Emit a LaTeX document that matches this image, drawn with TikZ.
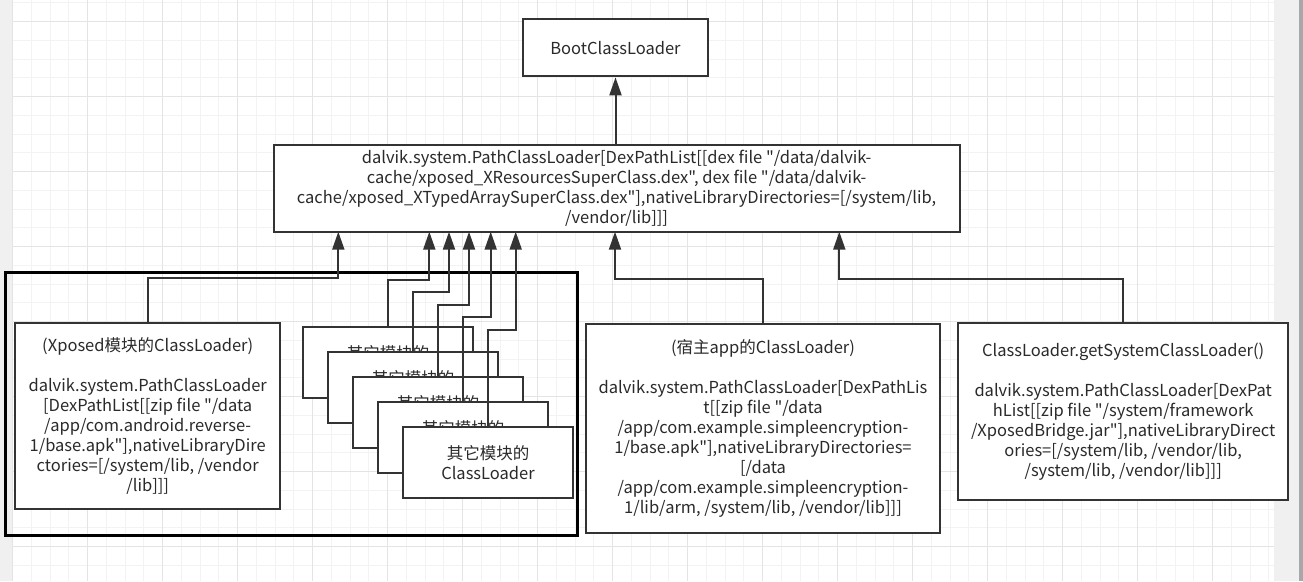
\documentclass[tikz,border=0pt]{standalone}
\usepackage{fontspec}
\setmainfont{Noto Sans CJK SC}[Ligatures=TeXOff]
\usetikzlibrary{arrows.meta}
\definecolor{lc}{HTML}{333333}
\definecolor{tc}{HTML}{2A2A2A}
\definecolor{gminor}{HTML}{F3F3F3}
\definecolor{gmajor}{HTML}{E4E4E4}
\definecolor{side}{HTML}{F0F0F0}
\definecolor{edge}{HTML}{A8A8A8}
\tikzset{
  box/.style={draw=lc, line width=2pt, fill=white, inner sep=0pt, align=center,
    text=tc, font=\fontsize{16.5}{20}\selectfont},
  arr/.style={draw=lc, line width=2pt, line join=miter, -{Triangle[length=18pt,width=12pt]}},
  minorline/.style={draw=gminor, line width=1pt},
  majorline/.style={draw=gmajor, line width=1pt},
  frame/.style={draw=black, line width=3pt},
}
\begin{document}
\begin{tikzpicture}[x=1pt,y=-1pt]
\useasboundingbox (0,0) rectangle (1303,581);
% background
\fill[side] (0,0) rectangle (1303,581);
\fill[white] (13,0) rectangle (1274,581);
\fill[edge] (1299,0) rectangle (1303,581);
\foreach \i in {0,...,67} { \draw[minorline] (12.7+18.75*\i,0) -- (12.7+18.75*\i,581); }
\foreach \k in {0,...,30} { \draw[minorline] (13,2.95+18.75*\k) -- (1274,2.95+18.75*\k); }
\foreach \i in {0,...,16} { \draw[majorline] (12.7+75*\i,0) -- (12.7+75*\i,581); }
\foreach \k in {0,...,7} { \draw[majorline] (13,21.7+75*\k) -- (1274,21.7+75*\k); }

% nodes
\node[box, minimum width=184.4pt, minimum height=57.3pt] (boot) at (615.5,47.7) {BootClassLoader};
\node[box, minimum width=686pt, minimum height=86.7pt] (main) at (616.6,188.3)
  {dalvik.system.PathClassLoader[DexPathList[[dex file "/data/dalvik-\\
   cache/xposed\_XResourcesSuperClass.dex", dex file "/data/dalvik-\\
   cache/xposed\_XTypedArraySuperClass.dex"],nativeLibraryDirectories=[/system/lib,\\
   /vendor/lib]]]};

\draw[frame] (5.5,272) rectangle (577.5,535);

\node[box, minimum width=265.3pt, minimum height=185.4pt] (xp) at (147.7,416)
  {(Xposed模块的ClassLoader)\\[20pt]
   dalvik.system.PathClassLoader\\
   {[}DexPathList[[zip file "/data\\
   /app/com.android.reverse-\\
   1/base.apk"],nativeLibraryDire\\
   ctories=[/system/lib, /vendor\\
   /lib]]]};

\foreach \k in {1,...,5} {
  \node[box, minimum width=169.4pt, minimum height=70.4pt] (s\k) at (363+25*\k,337.5+25*\k)
    {其它模块的\\ClassLoader};
}

\node[box, minimum width=354pt, minimum height=208.7pt] (host) at (763,428.3)
  {(宿主app的ClassLoader)\\[20pt]
   dalvik.system.PathClassLoader[DexPathLis\\
   t[[zip file "/data\\
   /app/com.example.simpleencryption-\\
   1/base.apk"],nativeLibraryDirectories=\\
   {[}/data\\
   /app/com.example.simpleencryption-\\
   1/lib/arm, /system/lib, /vendor/lib]]]};

\node[box, minimum width=329.7pt, minimum height=176.7pt] (sys) at (1123.2,411.7)
  {ClassLoader.getSystemClassLoader()\\[20pt]
   dalvik.system.PathClassLoader[DexPat\\
   hList[[zip file "/system/framework\\
   /XposedBridge.jar"],nativeLibraryDirect\\
   ories=[/system/lib, /vendor/lib,\\
   /system/lib, /vendor/lib]]]};

% targets on the bottom of main
\coordinate (t0) at (338.3,231.7);
\coordinate (t1) at (429.3,231.7);
\coordinate (t2) at (449,231.7);
\coordinate (t3) at (469,231.7);
\coordinate (t4) at (490.7,231.7);
\coordinate (t5) at (515.7,231.7);
\coordinate (th) at (615,231.7);
\coordinate (ts) at (839.3,231.7);
% bend levels
\coordinate (h0) at (0,278);
\coordinate (h1) at (0,280);
\coordinate (h2) at (0,292.3);
\coordinate (h3) at (0,305);
\coordinate (h4) at (0,317.3);
\coordinate (h5) at (0,330);
\coordinate (hh) at (0,279);

% connectors
\draw[arr] (main.north -| boot.south) -- (boot.south);
\draw[arr] (xp.north) -- (xp.north |- h0) -| (t0);
\foreach \k in {1,...,5} {
  \draw[arr] (s\k.north) -- (s\k.north |- h\k) -| (t\k);
}
\draw[arr] (host.north) -- (host.north |- hh) -| (th);
\draw[arr] (sys.north) -- (sys.north |- hh) -| (ts);
\end{tikzpicture}
\end{document}
